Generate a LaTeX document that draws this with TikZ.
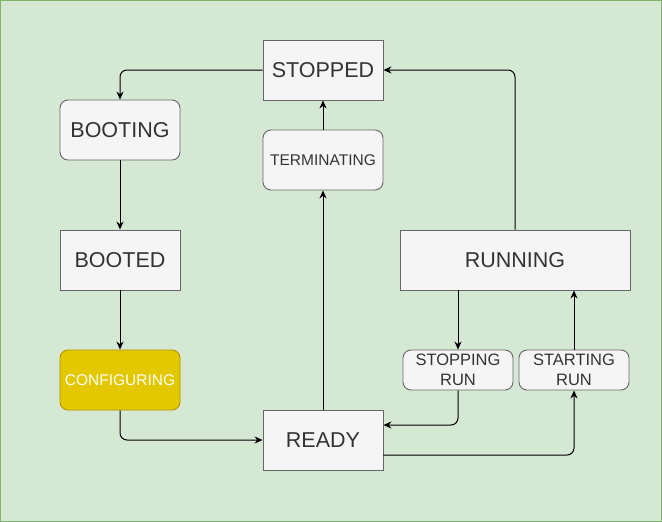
\documentclass[tikz,border=0pt]{standalone}
\usepackage{fontspec}
\setmainfont{Liberation Sans}
\usetikzlibrary{positioning}
\usetikzlibrary{arrows.meta}
\definecolor{bggreen}{HTML}{D5E8D4}
\definecolor{bgline}{HTML}{82B366}
\definecolor{boxfill}{HTML}{F5F5F5}
\definecolor{boxline}{HTML}{666666}
\definecolor{boxtext}{HTML}{333333}
\definecolor{yfill}{HTML}{E3C800}
\definecolor{yline}{HTML}{B09500}
\tikzset{
    cell/.style = {rectangle, draw=boxline, line width=0.9pt, fill=boxfill, text=boxtext, inner sep=0pt, minimum width=120pt, minimum height=60pt, font=\fontsize{21.5}{24}\selectfont},
    mynode/.style = {cell, rounded corners=8pt},
    mynodes/.style = {mynode, font=\fontsize{15.5}{18}\selectfont},
    mynodey/.style = {mynodes, fill=yfill, draw=yline, text=white},
    mynoderun/.style = {mynode, minimum width=110pt, minimum height=40pt, align=center, font=\fontsize{16.5}{20}\selectfont},
    edgen/.style = {-{Stealth[length=8pt,width=7pt]}, line width=1pt, rounded corners=7pt},
}

\begin{document}
\begin{tikzpicture}[x=1pt,y=-1pt]
  % background
  \path[use as bounding box] (0,0) rectangle (662,522);
  \draw[fill=bggreen,draw=bgline,line width=1pt] (0.5,0.5) rectangle (661.5,521.5);
  % states
  \node[cell] (stopped) at (323,70) {STOPPED};
  \node[mynode] (booting) at (120,130) {BOOTING};
  \node[mynodes] (terminating) at (323,160) {TERMINATING};
  \node[cell] (booted) at (120,260) {BOOTED};
  \node[cell,minimum width=230pt] (running) at (515,260) {RUNNING};
  \node[mynodey] (configuring) at (120,380) {CONFIGURING};
  \node[mynoderun] (stoppingrun) at (458,370) {STOPPING\\RUN};
  \node[mynoderun] (startingrun) at (574,370) {STARTING\\RUN};
  \node[cell] (ready) at (323,440) {READY};
  % transitions
  \draw[edgen] (stopped.west) -| (booting.north);
  \draw[edgen] (booting) -- (booted);
  \draw[edgen] (booted) -- (configuring);
  \draw[edgen] (configuring.south) |- (ready.west);
  \draw[edgen] (ready) -- (terminating);
  \draw[edgen] (terminating) -- (stopped);
  \draw[edgen] (running.north) |- (stopped.east);
  \draw[edgen] (stoppingrun.north |- running.south) -- (stoppingrun.north);
  \draw[edgen] (stoppingrun.south) |- ([yshift=15pt]ready.east);
  \draw[edgen] ([yshift=-15pt]ready.east) -| (startingrun.south);
  \draw[edgen] (startingrun.north) -- (startingrun.north |- running.south);
\end{tikzpicture}
\end{document}
